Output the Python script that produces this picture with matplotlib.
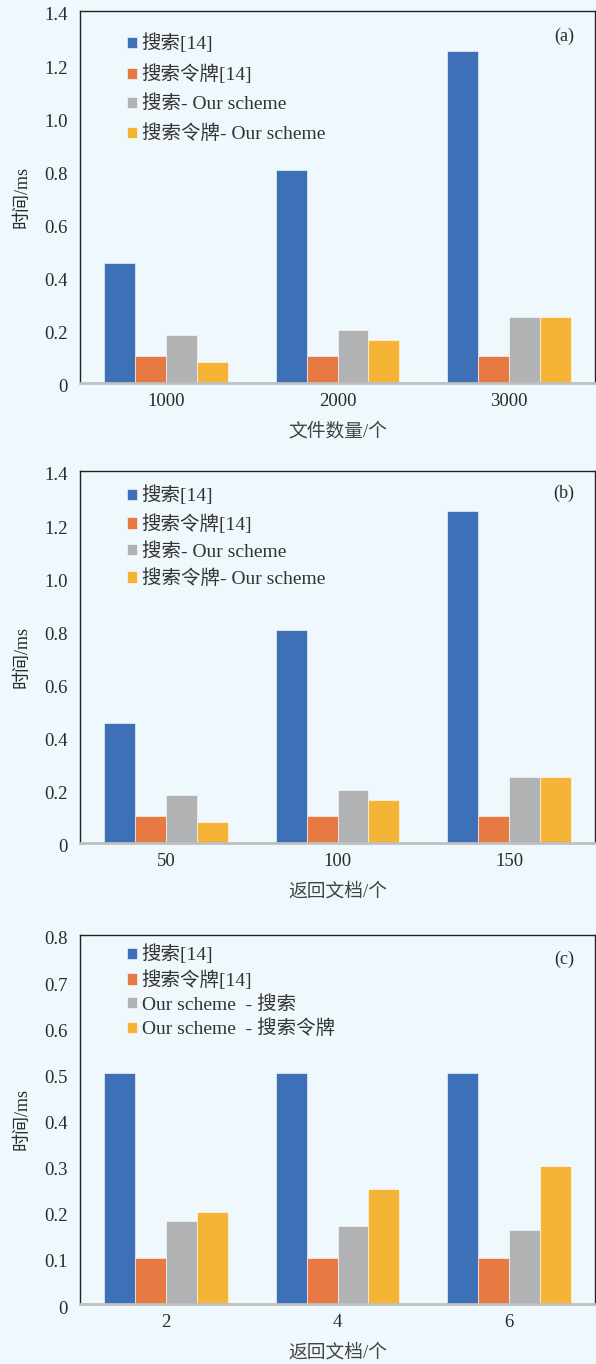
import matplotlib
matplotlib.use("Agg")
import matplotlib.pyplot as plt
import matplotlib.transforms as mtransforms
import numpy as np

plt.rcParams['font.family'] = ['Liberation Serif', 'Noto Sans CJK SC']

# ---------- data ----------
cats_a = ["1000", "2000", "3000"]
cats_b = ["50", "100", "150"]
cats_c = ["2", "4", "6"]

search_ref_a = [0.45, 0.80, 1.25]
token_ref_a = [0.10, 0.10, 0.10]
search_our_a = [0.18, 0.20, 0.25]
token_our_a = [0.08, 0.16, 0.25]

search_ref_b = [0.45, 0.80, 1.25]
token_ref_b = [0.10, 0.10, 0.10]
search_our_b = [0.18, 0.20, 0.25]
token_our_b = [0.08, 0.16, 0.25]

search_ref_c = [0.50, 0.50, 0.50]
token_ref_c = [0.10, 0.10, 0.10]
search_our_c = [0.18, 0.17, 0.16]
token_our_c = [0.20, 0.25, 0.30]

labels_ab = ["搜索[14]", "搜索令牌[14]", "搜索- Our scheme", "搜索令牌- Our scheme"]
labels_c = ["搜索[14]", "搜索令牌[14]", "Our scheme  - 搜索", "Our scheme  - 搜索令牌"]

xlabels = ["文件数量/个", "返回文档/个", "返回文档/个"]
ylabel = "时间/ms"
tags = ["(a)", "(b)", "(c)"]
yticks_ab = [0, 0.2, 0.4, 0.6, 0.8, 1.0, 1.2, 1.4]
yticklabels_ab = ["0", "0.2", "0.4", "0.6", "0.8", "1.0", "1.2", "1.4"]
yticks_c = [0, 0.1, 0.2, 0.3, 0.4, 0.5, 0.6, 0.7, 0.8]
yticklabels_c = ["0", "0.1", "0.2", "0.3", "0.4", "0.5", "0.6", "0.7", "0.8"]

colors = ["#3E70B8", "#E77A42", "#B1B2B4", "#F5B436"]
bg = "#EFF8FD"
txt = "#2A2A2A"

W, H = 596, 1364
fig = plt.figure(figsize=(W / 100, H / 100), dpi=100, facecolor=bg)

def frac_rect(top_px, bot_px, left_px=80, right_px=595):
    return [left_px / W, 1 - bot_px / H, (right_px - left_px) / W, (bot_px - top_px) / H]

# rect, cats, series, labels, yticks, yticklabels, ymax, legend top, labelspacing, tag y
panels = [
    (frac_rect(11, 383), cats_a, [search_ref_a, token_ref_a, search_our_a, token_our_a], labels_ab,
     yticks_ab, yticklabels_ab, 1.4, 0.950, 0.58, 0.932),
    (frac_rect(471, 843), cats_b, [search_ref_b, token_ref_b, search_our_b, token_our_b], labels_ab,
     yticks_ab, yticklabels_ab, 1.4, 0.971, 0.45, 0.94),
    (frac_rect(935, 1304), cats_c, [search_ref_c, token_ref_c, search_our_c, token_our_c], labels_c,
     yticks_c, yticklabels_c, 0.8, 0.984, 0.30, 0.934),
]

bw = 0.18
for i, (rect, cats, series, labs, yt, ytl, ymax, ltop, lsp, tagy) in enumerate(panels):
    ax = fig.add_axes(rect)
    ax.set_facecolor(bg)
    x = np.arange(len(cats))
    for k, (vals, c, lab) in enumerate(zip(series, colors, labs)):
        ax.bar(x + (k - 1.5) * bw, vals, bw, color=c, label=lab, edgecolor="white", linewidth=0.4, zorder=2)
    ax.set_xlim(-0.5, len(cats) - 0.5)
    ax.set_ylim(0, ymax)
    ax.set_xticks(x)
    ax.set_xticklabels(cats, fontsize=13.5, color=txt)
    ax.set_yticks(yt)
    ax.set_yticklabels(ytl, fontsize=13.5, color=txt)
    ax.tick_params(length=0)
    ax.tick_params(axis="x", pad=7)
    ax.tick_params(axis="y", pad=9)
    off = mtransforms.ScaledTranslation(0, -3 / 100, fig.dpi_scale_trans)
    for lbl in ax.get_yticklabels():
        lbl.set_transform(lbl.get_transform() + off)
    for s in ["top", "left", "right"]:
        ax.spines[s].set_color("#222222")
        ax.spines[s].set_linewidth(1.0)
    ax.spines["bottom"].set_color("#BFBFBF")
    ax.spines["bottom"].set_linewidth(2.0)
    ax.set_xlabel(xlabels[i], fontsize=13.5, color="#444444", labelpad=9)
    ax.set_ylabel(ylabel, fontsize=13, color=txt, labelpad=10)
    ax.text(0.94, tagy, tags[i], transform=ax.transAxes,
            fontsize=13, ha="center", va="center", color=txt)
    leg = ax.legend(loc="upper left", bbox_to_anchor=(0.083, ltop), frameon=False,
                    fontsize=14, handlelength=0.52, handleheight=0.52, handletextpad=0.25,
                    labelspacing=lsp, borderpad=0.2, borderaxespad=0)
    for t in leg.get_texts():
        t.set_color("#333333")

fig.savefig("out.png", dpi=100, facecolor=bg)
